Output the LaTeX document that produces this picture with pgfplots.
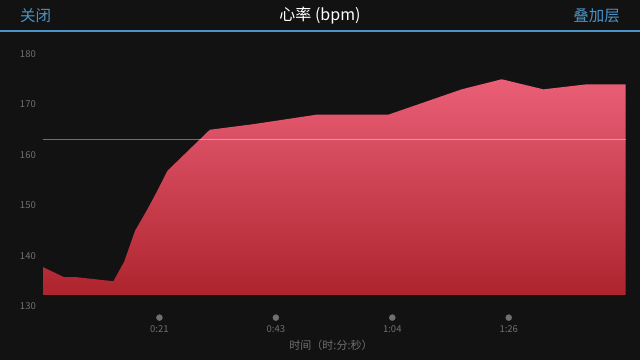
\documentclass[border=0pt]{standalone}
\usepackage{fontspec}
\setmainfont{Noto Sans CJK SC}
\usepackage{pgfplots}
\pgfplotsset{compat=1.18}
\definecolor{bg}{HTML}{121212}
\definecolor{bluetxt}{HTML}{4A93C6}
\definecolor{tickgray}{HTML}{707070}
\definecolor{filltop}{HTML}{EA5F77}
\definecolor{fillbot}{HTML}{AE242D}
\begin{document}
\begin{tikzpicture}[x=1pt,y=1pt]
\fill[bg] (0,0) rectangle (640,360);
\useasboundingbox (0,0) rectangle (640,360);
\draw[bluetxt, line width=1.5pt] (0,329) -- (640,329);
\node[anchor=west, text=bluetxt, font=\fontsize{15.5}{18}\selectfont, inner sep=0pt] at (20,344.5) {关闭};
\node[anchor=east, text=bluetxt, font=\fontsize{15.5}{18}\selectfont, inner sep=0pt] at (620,344.5) {叠加层};
\node[text=white, font=\fontsize{16}{18}\selectfont, inner sep=0pt] at (320,344.5) {心率 (bpm)};
\node[text=tickgray, font=\fontsize{11}{13}\selectfont, inner sep=0pt] at (331,15) {时间（时:分:秒）};
\begin{axis}[
  at={(43pt,53.5pt)}, anchor=south west,
  scale only axis, width=582.7pt, height=252.5pt,
  xmin=0, xmax=107.6, ymin=130, ymax=180,
  clip=false,
  axis line style={draw=none},
  tick style={draw=none},
  ytick={130,140,...,180},
  xtick={21.5,43,64.5,86},
  xticklabels={0:21,0:43,1:04,1:26},
  /pgf/number format/assume math mode=true,
  yticklabel style={anchor=east, inner sep=0pt, xshift=-7pt, text=tickgray, font=\fontsize{9.5}{11}\selectfont},
  xticklabel style={anchor=center, inner sep=0pt, yshift=-22.5pt, text=tickgray, font=\fontsize{9.5}{11}\selectfont},
]
\addplot[draw=none, top color=filltop, bottom color=fillbot] coordinates {
(0,132.3) (0,137.8) (3.9,135.8) (6.2,135.8) (13.0,135.0) (15.0,138.9) (17.0,145.0)
(19.2,149.1) (21.0,152.7) (23.0,156.9) (30.8,165.0) (38.8,166.1) (50.6,168.0)
(63.8,168.0) (77.3,173.0) (84.7,175.0) (92.4,173.0) (100.4,174.0) (107.6,174.0) (107.6,132.3)
} -- cycle;
\addplot[white, opacity=0.4, line width=1pt] coordinates {(0,163) (107.6,163)};
\addplot[only marks, mark=*, mark size=3pt, color=tickgray] coordinates {(21.5,127.8) (43,127.8) (64.5,127.8) (86,127.8)};
\end{axis}
\end{tikzpicture}
\end{document}
